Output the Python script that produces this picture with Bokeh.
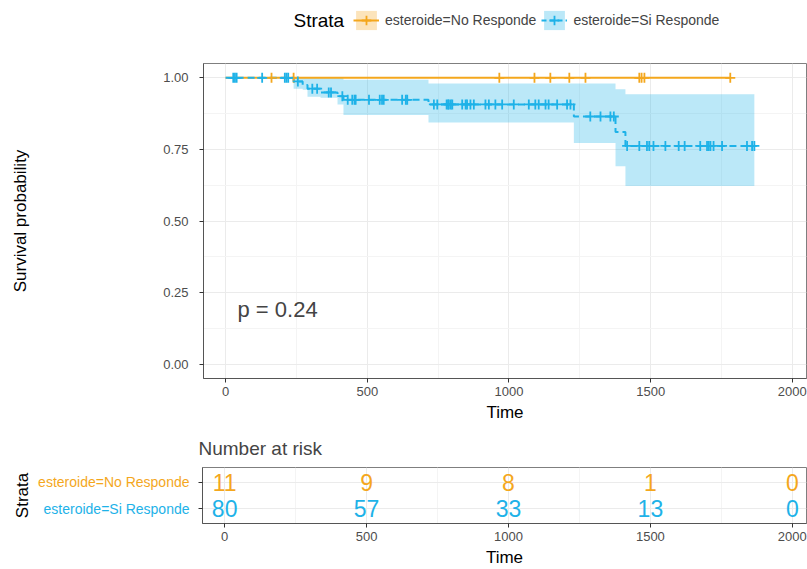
import numpy as np
from bokeh.plotting import figure
from bokeh.models import (Range1d, Legend, LegendItem, Label, FixedTicker)
from bokeh.layouts import column, row
from bokeh.embed import file_html
from bokeh.resources import INLINE
from bokeh.core.properties import value

# ---------------- data ----------------
strata = ["esteroide=No Responde", "esteroide=Si Responde"]
legend_title = "Strata"

# No Responde: no events, survival stays at 1
orange_time = [0]
orange_surv = [1.0]
orange_lower = [1.0]
orange_upper = [1.0]
orange_end = 1781
orange_cens = [162, 240, 966, 1090, 1146, 1213, 1270, 1460, 1468, 1478, 1781]

# Si Responde: Kaplan-Meier steps
blue_time = [0, 240, 272, 289, 335, 395, 416, 716, 1229, 1376, 1411]
blue_surv = [1.0, 0.9875, 0.975, 0.962, 0.949, 0.936, 0.923, 0.907, 0.865, 0.811, 0.762]
blue_lower = [1.0, 0.962, 0.958, 0.934, 0.930, 0.907, 0.870, 0.844, 0.772, 0.691, 0.622]
blue_upper = [1.0, 1.0, 1.0, 1.0, 1.0, 1.0, 0.993, 0.980, 0.980, 0.960, 0.943]
blue_end = 1866
blue_cens = [27, 33, 39, 129, 209, 215, 221, 255, 306, 323, 364, 372, 412, 431, 447,
             455, 459, 506, 544, 552, 558, 623, 636, 641, 735, 747, 780, 785, 788, 795,
             800, 835, 847, 852, 864, 876, 917, 929, 952, 976, 1017, 1070, 1093, 1105,
             1129, 1140, 1170, 1205, 1217, 1287, 1323, 1358, 1370, 1417, 1460, 1487,
             1495, 1510, 1552, 1599, 1620, 1675, 1699, 1705, 1711, 1722, 1752, 1840,
             1858, 1866]

pval_text = "p = 0.24"

x_ticks = [0, 500, 1000, 1500, 2000]
x_minor = [250, 750, 1250, 1750]
y_ticks = [0.0, 0.25, 0.5, 0.75, 1.0]
y_tick_labels = ["0.00", "0.25", "0.50", "0.75", "1.00"]
y_minor = [0.125, 0.375, 0.625, 0.875]

risk_times = [0, 500, 1000, 1500, 2000]
risk_no = [11, 9, 8, 1, 0]
risk_si = [80, 57, 33, 13, 0]

# ---------------- style ----------------
FONT = "Liberation Sans"
ORANGE = "#F4A71D"
BLUE = "#1EB2E8"
GRID = "#EBEBEB"
MINOR = "#F4F4F4"
X0, X1 = -78, 2050


def step_path(times, vals, end):
    xs, ys = [], []
    for i, (t0, v) in enumerate(zip(times, vals)):
        t1 = times[i + 1] if i + 1 < len(times) else end
        xs += [t0, t1]
        ys += [v, v]
    return xs, ys


def surv_at(times, vals, pts):
    idx = np.searchsorted(np.array(times), np.array(pts), side="right") - 1
    return [vals[i] for i in idx]


def style_axes(fig):
    for ax in (fig.xaxis[0], fig.yaxis[0]):
        ax.axis_line_color = "#555555"
        ax.major_tick_line_color = "#333333"
        ax.major_tick_in = 0
        ax.major_tick_out = 4
        ax.minor_tick_in = 0
        ax.minor_tick_out = 0
        ax.major_label_text_font = FONT
        ax.major_label_text_font_size = "13px"
        ax.major_label_text_color = "#4D4D4D"
        ax.axis_label_text_font = FONT
        ax.axis_label_text_font_size = "17px"
        ax.axis_label_text_font_style = "normal"
        ax.axis_label_text_color = "#000000"
    fig.outline_line_color = "#7F7F7F"
    fig.xgrid.grid_line_color = GRID
    fig.ygrid.grid_line_color = GRID
    fig.xgrid.minor_grid_line_color = MINOR
    fig.ygrid.minor_grid_line_color = MINOR


def blank_fig(w, h, **kw):
    f = figure(width=w, height=h, output_backend="svg", toolbar_location=None,
               x_axis_location=None, y_axis_location=None, **kw)
    f.grid.visible = False
    f.outline_line_color = None
    return f


# ---------------- legend strip (pixel-like units inside its frame) ----------------
leg = blank_fig(807, 40, x_range=Range1d(0, 603), y_range=Range1d(0, 40),
                min_border_left=203, min_border_right=1, min_border_top=0, min_border_bottom=0)
# key renderers: a single point outside the visible range, only used for the legend keys
off = dict(x=[-50], y=[-50])
lb_o = leg.varea(x=[-50], y1=[-50], y2=[-49], fill_color=ORANGE, fill_alpha=0.3)
ll_o = leg.line(line_color=ORANGE, line_width=2, **off)
lc_o = leg.scatter(marker="cross", size=12, line_color=ORANGE, line_width=1.8, **off)
lb_b = leg.varea(x=[-50], y1=[-50], y2=[-49], fill_color=BLUE, fill_alpha=0.3)
ll_b = leg.line(line_color=BLUE, line_width=2, line_dash="5 3", **off)
lc_b = leg.scatter(marker="cross", size=12, line_color=BLUE, line_width=1.8, **off)
legend = Legend(items=[LegendItem(label=strata[0], renderers=[lb_o, ll_o, lc_o]),
                       LegendItem(label=strata[1], renderers=[lb_b, ll_b, lc_b])],
                orientation="horizontal", location=(150, 8),
                background_fill_alpha=0, border_line_alpha=0,
                padding=0, margin=0, spacing=5, label_standoff=6,
                glyph_width=26, glyph_height=24,
                label_text_font=FONT, label_text_font_size="14px")
leg.add_layout(legend)
leg.text(x=[90], y=[20], text=[legend_title], text_align="left", text_baseline="middle",
         text_font=value(FONT), text_font_size="19px", text_color="#000000")

# ---------------- main survival plot ----------------
p = figure(width=807, height=386, x_range=Range1d(X0, X1), y_range=Range1d(-0.05, 1.05),
           output_backend="svg", toolbar_location=None,
           min_border_left=203, min_border_right=1, min_border_top=23, min_border_bottom=48)
p.xaxis.ticker = FixedTicker(ticks=x_ticks, minor_ticks=x_minor)
p.yaxis.ticker = FixedTicker(ticks=y_ticks, minor_ticks=y_minor)
p.yaxis.major_label_overrides = {t: l for t, l in zip(y_ticks, y_tick_labels)}
p.xaxis.axis_label = "Time"
p.yaxis.axis_label = "Survival probability"
style_axes(p)
p.yaxis.major_label_standoff = 11
p.yaxis.axis_label_standoff = 130
p.xaxis.major_label_standoff = 4
p.xaxis.axis_label_standoff = 4

bx, bl = step_path(blue_time, blue_lower, blue_end)
_, bu = step_path(blue_time, blue_upper, blue_end)
p.varea(x=bx, y1=bl, y2=bu, fill_color=BLUE, fill_alpha=0.3)
ox, ol = step_path(orange_time, orange_lower, orange_end)
_, ou = step_path(orange_time, orange_upper, orange_end)
p.varea(x=ox, y1=ol, y2=ou, fill_color=ORANGE, fill_alpha=0.3)

p.step(x=orange_time + [orange_end], y=orange_surv + [orange_surv[-1]], mode="after",
       line_color=ORANGE, line_width=2)
p.step(x=blue_time + [blue_end], y=blue_surv + [blue_surv[-1]], mode="after",
       line_color=BLUE, line_width=2, line_dash="7 4")

p.scatter(x=orange_cens, y=surv_at(orange_time, orange_surv, orange_cens),
          marker="cross", size=10, line_color=ORANGE, line_width=1.8)
p.scatter(x=blue_cens, y=surv_at(blue_time, blue_surv, blue_cens),
          marker="cross", size=10, line_color=BLUE, line_width=1.8)

p.add_layout(Label(x=42, y=0.19, text=pval_text, text_font=FONT, text_font_size="22px",
                   text_baseline="middle", text_align="left"))

# ---------------- risk table ----------------
TB_H, TB_TOP, TB_BOT = 143, 40, 44
t = figure(width=609, height=TB_H, x_range=p.x_range, y_range=Range1d(0.45, 2.55),
           output_backend="svg", toolbar_location=None, title="Number at risk",
           min_border_left=0, min_border_right=1, min_border_top=TB_TOP, min_border_bottom=TB_BOT)
t.xaxis.ticker = FixedTicker(ticks=x_ticks, minor_ticks=x_minor)
t.yaxis.ticker = FixedTicker(ticks=[2, 1])
t.yaxis.major_label_overrides = {2: "", 1: ""}
t.xaxis.axis_label = "Time"
style_axes(t)
t.yaxis.major_label_standoff = 0
t.xaxis.major_label_standoff = 4
t.xaxis.axis_label_standoff = 4
t.title.text_font = FONT
t.title.text_font_size = "19px"
t.title.text_font_style = "normal"
t.title.offset = -4
t.title.standoff = 18

t.text(x=risk_times, y=[2] * len(risk_times), text=[str(v) for v in risk_no],
       text_color=ORANGE, text_align="center", text_baseline="middle",
       text_font=value(FONT), text_font_size="23px")
t.text(x=risk_times, y=[1] * len(risk_times), text=[str(v) for v in risk_si],
       text_color=BLUE, text_align="center", text_baseline="middle",
       text_font=value(FONT), text_font_size="23px")

# strata labels column (left of the table)
lab = blank_fig(198, TB_H, x_range=Range1d(0, 198), y_range=t.y_range,
                min_border_left=0, min_border_right=0, min_border_top=TB_TOP,
                min_border_bottom=TB_BOT)
lab.text(x=[189, 189], y=[2, 1], text=strata, text_color=[ORANGE, BLUE],
         text_align="right", text_baseline="middle",
         text_font=value(FONT), text_font_size="14px")
lab.text(x=[22], y=[1.5], text=["Strata"], angle=np.pi / 2, text_color="#000000",
         text_align="center", text_baseline="middle",
         text_font=value(FONT), text_font_size="17px")

layout = column(leg, p, row(lab, t))
open("out.html", "w").write(file_html(layout, INLINE))
